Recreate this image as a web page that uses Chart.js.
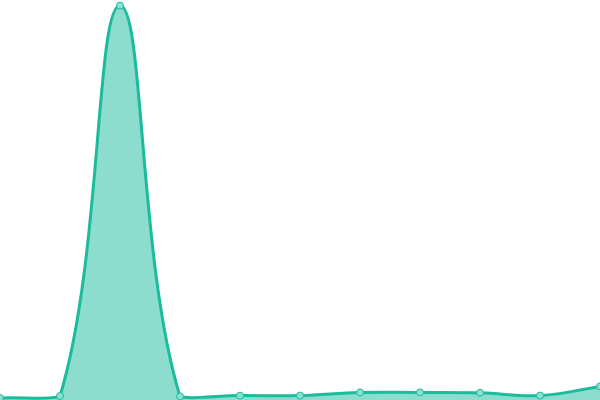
<!DOCTYPE html>
<html>
<head>
<meta charset="utf-8">
<script src="https://cdn.jsdelivr.net/npm/chart.js@4"></script>
<style>
  html, body { margin: 0; padding: 0; background: #fff; }
  #graf { display: block; }
</style>
</head>
<body>
<canvas id="graf" width="600" height="400"></canvas>
<script>
  const etiketter = ["1", "2", "3", "4", "5", "6", "7", "8", "9", "10", "11"];
  const värden = [0.5, 1, 98.6, 0.9, 1.1, 1.1, 1.9, 1.9, 1.8, 1.1, 3.4];

  const ctx = document.getElementById("graf").getContext("2d");
  new Chart(ctx, {
    type: 'line',
    data: {
      labels: etiketter,
      datasets: [{
        data: värden,
        borderColor: '#1abc9c',
        backgroundColor: 'rgba(26, 188, 156, 0.5)',
        borderWidth: 3,
        fill: true,
        tension: 0.4,
        pointRadius: 3.5,
        pointBorderWidth: 1,
        pointBackgroundColor: '#8ce0d0',
        pointBorderColor: '#1abc9c'
      }]
    },
    options: {
      responsive: false,
      animation: false,
      layout: { padding: 0, autoPadding: false },
      plugins: { legend: { display: false }, tooltip: { enabled: false } },
      scales: {
        x: { display: false },
        y: { display: false, min: 0, max: 100 }
      }
    }
  });
</script>
</body>
</html>
